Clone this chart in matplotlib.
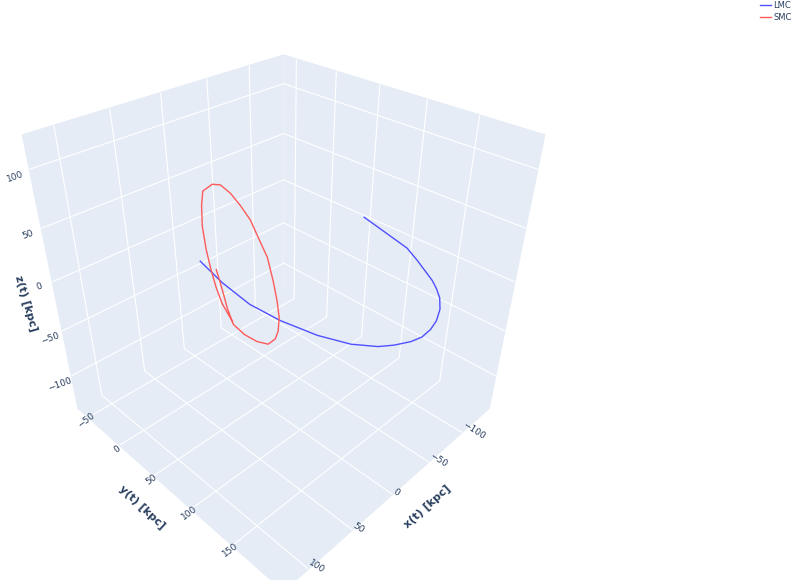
import matplotlib
matplotlib.use("Agg")
import matplotlib.pyplot as plt
from matplotlib.lines import Line2D

# LMC orbit [kpc]
lmc_x = [0.1, -15.1, -31.5, -45.3, -58.8, -67.3, -70.8, -70.8, -69.5, -67.3, -63.2, -58.6, -52.4,
         -46.3, -41.4, -36.9, -32.6, -26.0, -19.7, -12.2, -2.1]
lmc_y = [-29.4, -18.0, 0.9, 28.0, 64.3, 98.0, 126.2, 143.1, 160.7, 172.2, 181.9, 188.9, 194.4,
         196.5, 195.7, 194.1, 190.9, 186.4, 181.2, 170.3, 155.4]
lmc_z = [-18.8, -43.7, -66.7, -78.7, -84.2, -80.8, -70.1, -59.3, -45.3, -33.3, -18.4, -4.2, 12.6,
         26.8, 36.9, 45.2, 52.6, 63.6, 73.8, 82.7, 94.7]

# SMC orbit [kpc]
smc_x = [-14.9, -14.2, -14.1, -10.9, 5.0, 22.2, 37.3, 48.2, 54.2, 59.2, 61.4, 62.5, 62.6, 58.4,
         54.5, 47.4, 39.2, 28.9, 17.4, -0.6, -9.8, -19.1, -24.5, -25.8, -25.5, -22.1, -11.3]
smc_y = [-25.6, -17.5, -11.4, 0.2, 34.1, 69.3, 99.0, 118.4, 127.8, 134.1, 134.4, 131.8, 126.4, 113.3,
         101.4, 83.4, 63.4, 39.9, 15.9, -19.8, -34.7, -47.7, -51.1, -47.2, -40.7, -28.6, -1.5]
smc_z = [-32.6, -50.9, -68.7, -79.7, -65.2, -44.5, -22.9, -1.6, 13.5, 31.3, 46.3, 62.0, 78.5, 86.4,
         93.7, 95.5, 95.1, 90.2, 78.6, 54.0, 31.6, 2.5, -26.1, -47.6, -64.2, -75.6, -77.3]

x_range = [-144, 126]
y_range = [-67, 206]
z_range = [-139, 127]
x_ticks = [-100, -50, 0, 50, 100]
y_ticks = [-50, 0, 50, 100, 150]
z_ticks = [-100, -50, 0, 50, 100]

text_col = '#2a3f5f'
pane_col = '#E5ECF6'
lmc_col = '#5050ff'
smc_col = '#ff5a5a'

plt.rcParams['grid.color'] = 'white'
plt.rcParams['grid.linewidth'] = 0.8

fig = plt.figure(figsize=(7.95, 5.8), dpi=100)
ax = fig.add_axes([-0.018, -0.0101, 0.7296, 1.0], projection='3d',
                  proj_type='persp', focal_length=0.243)
ax.view_init(elev=34, azim=45)
ax.set_box_aspect((1, 1, 1), zoom=0.943)

ax.plot(lmc_x, lmc_y, lmc_z, color=lmc_col, lw=1.0)
ax.plot(smc_x, smc_y, smc_z, color=smc_col, lw=1.0)

ax.set_xlim(x_range)
ax.set_ylim(y_range)
ax.set_zlim(z_range)
ax.set_xticks(x_ticks)
ax.set_yticks(y_ticks)
ax.set_zticks(z_ticks)

for a in (ax.xaxis, ax.yaxis, ax.zaxis):
    a.set_pane_color(pane_col)
    a.pane.set_edgecolor(pane_col)
    a.line.set_color((1, 1, 1, 0))
    a._axinfo['tick']['inward_factor'] = 0
    a._axinfo['tick']['outward_factor'] = 0

ax.tick_params(axis='x', labelcolor=text_col, labelsize=6.5, color=(1, 1, 1, 0), pad=-9, labelrotation=-33)
ax.tick_params(axis='y', labelcolor=text_col, labelsize=6.5, color=(1, 1, 1, 0), pad=-6, labelrotation=37)
ax.tick_params(axis='z', labelcolor=text_col, labelsize=6.5, color=(1, 1, 1, 0), pad=-2, labelrotation=20)
for lab in ax.get_xticklabels():
    lab.set_ha('left')
    lab.set_va('center')
for lab in ax.get_yticklabels():
    lab.set_ha('center')
    lab.set_va('center')
for lab in ax.get_zticklabels():
    lab.set_ha('center')
    lab.set_va('top')

# axis titles
fig.text(427 / 795, 1 - 507 / 580, 'x(t) [kpc]', rotation=42, ha='center', va='center',
         fontsize=8, fontweight='bold', color=text_col)
fig.text(142 / 795, 1 - 507 / 580, 'y(t) [kpc]', rotation=-43, ha='center', va='center',
         fontsize=8, fontweight='bold', color=text_col)
fig.text(26 / 795, 1 - 303 / 580, 'z(t) [kpc]', rotation=-74, ha='center', va='center',
         fontsize=8, fontweight='bold', color=text_col)

handles = [Line2D([], [], color=lmc_col, lw=1.0), Line2D([], [], color=smc_col, lw=1.0)]
fig.legend(handles, ['LMC', 'SMC'], loc='upper left', bbox_to_anchor=(760 / 795, 1 - 1 / 580),
           frameon=False, fontsize=6, handlelength=1.3, handletextpad=0.3,
           borderpad=0, borderaxespad=0, labelspacing=0.3, labelcolor=text_col)

fig.savefig('out.png', dpi=100)
